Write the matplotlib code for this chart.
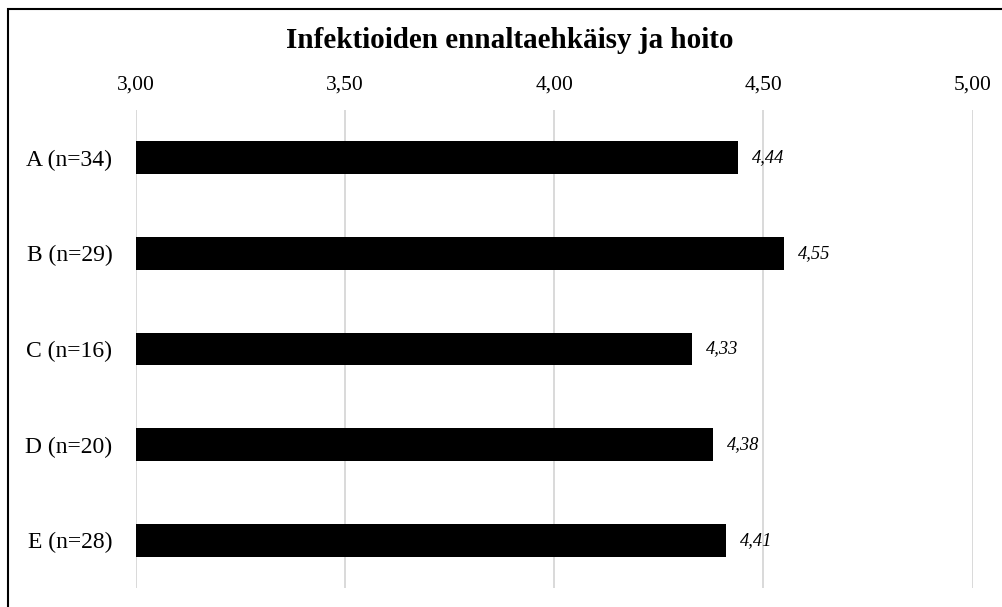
import matplotlib.pyplot as plt
from matplotlib.patches import Rectangle

# Ryhmät ja keskiarvot
groups = ['A (n=34)', 'B (n=29)', 'C (n=16)', 'D (n=20)', 'E (n=28)']
means = [4.44, 4.55, 4.33, 4.38, 4.41]
ticks = [3.0, 3.5, 4.0, 4.5, 5.0]
tick_labels = ['3,00', '3,50', '4,00', '4,50', '5,00']

plt.rcParams['font.family'] = ['Liberation Serif', 'DejaVu Serif']

fig = plt.figure(figsize=(10.02, 6.07), dpi=100)
W, H = 1002, 607
ax = fig.add_axes([136 / W, 1 - 588 / H, (972.5 - 136) / W, (588 - 110) / H])

# Horizontal bars, first group at the top
y = list(range(len(groups)))
ax.barh(y, [m - 3.0 for m in means], left=3.0, height=0.345,
        color='black', zorder=3)
for yi, m in zip(y, means):
    ax.annotate(f'{m:.2f}'.replace('.', ','), (m, yi), xytext=(14, 0),
                textcoords='offset pixels', va='center', ha='left',
                fontsize=13.3, style='italic', zorder=4)

ax.set_xlim(3.0, 5.0)
ax.set_ylim(len(groups) - 0.5, -0.5)
ax.set_xticks(ticks)
ax.set_xticklabels(tick_labels, fontsize=15.5)
ax.xaxis.tick_top()
ax.tick_params(axis='x', length=0, pad=11)
ax.set_yticks(y)
ax.set_yticklabels(groups, fontsize=17)
ax.tick_params(axis='y', length=0, pad=17)
ax.grid(axis='x', color='#d9d9d9', linewidth=1.4, zorder=0)
for s in ax.spines.values():
    s.set_visible(False)

fig.text(510 / W, 1 - 41 / H, 'Infektioiden ennaltaehkäisy ja hoito',
         ha='center', va='center', fontsize=21, fontweight='bold')

# Outer frame (only top and left edge fall inside the image)
fig.patches.append(Rectangle((8 / W, -0.1), 1.1, 1 - 9 / H + 0.1,
                             transform=fig.transFigure, fill=False,
                             edgecolor='black', linewidth=1.5))

fig.savefig('out.png', dpi=100)
